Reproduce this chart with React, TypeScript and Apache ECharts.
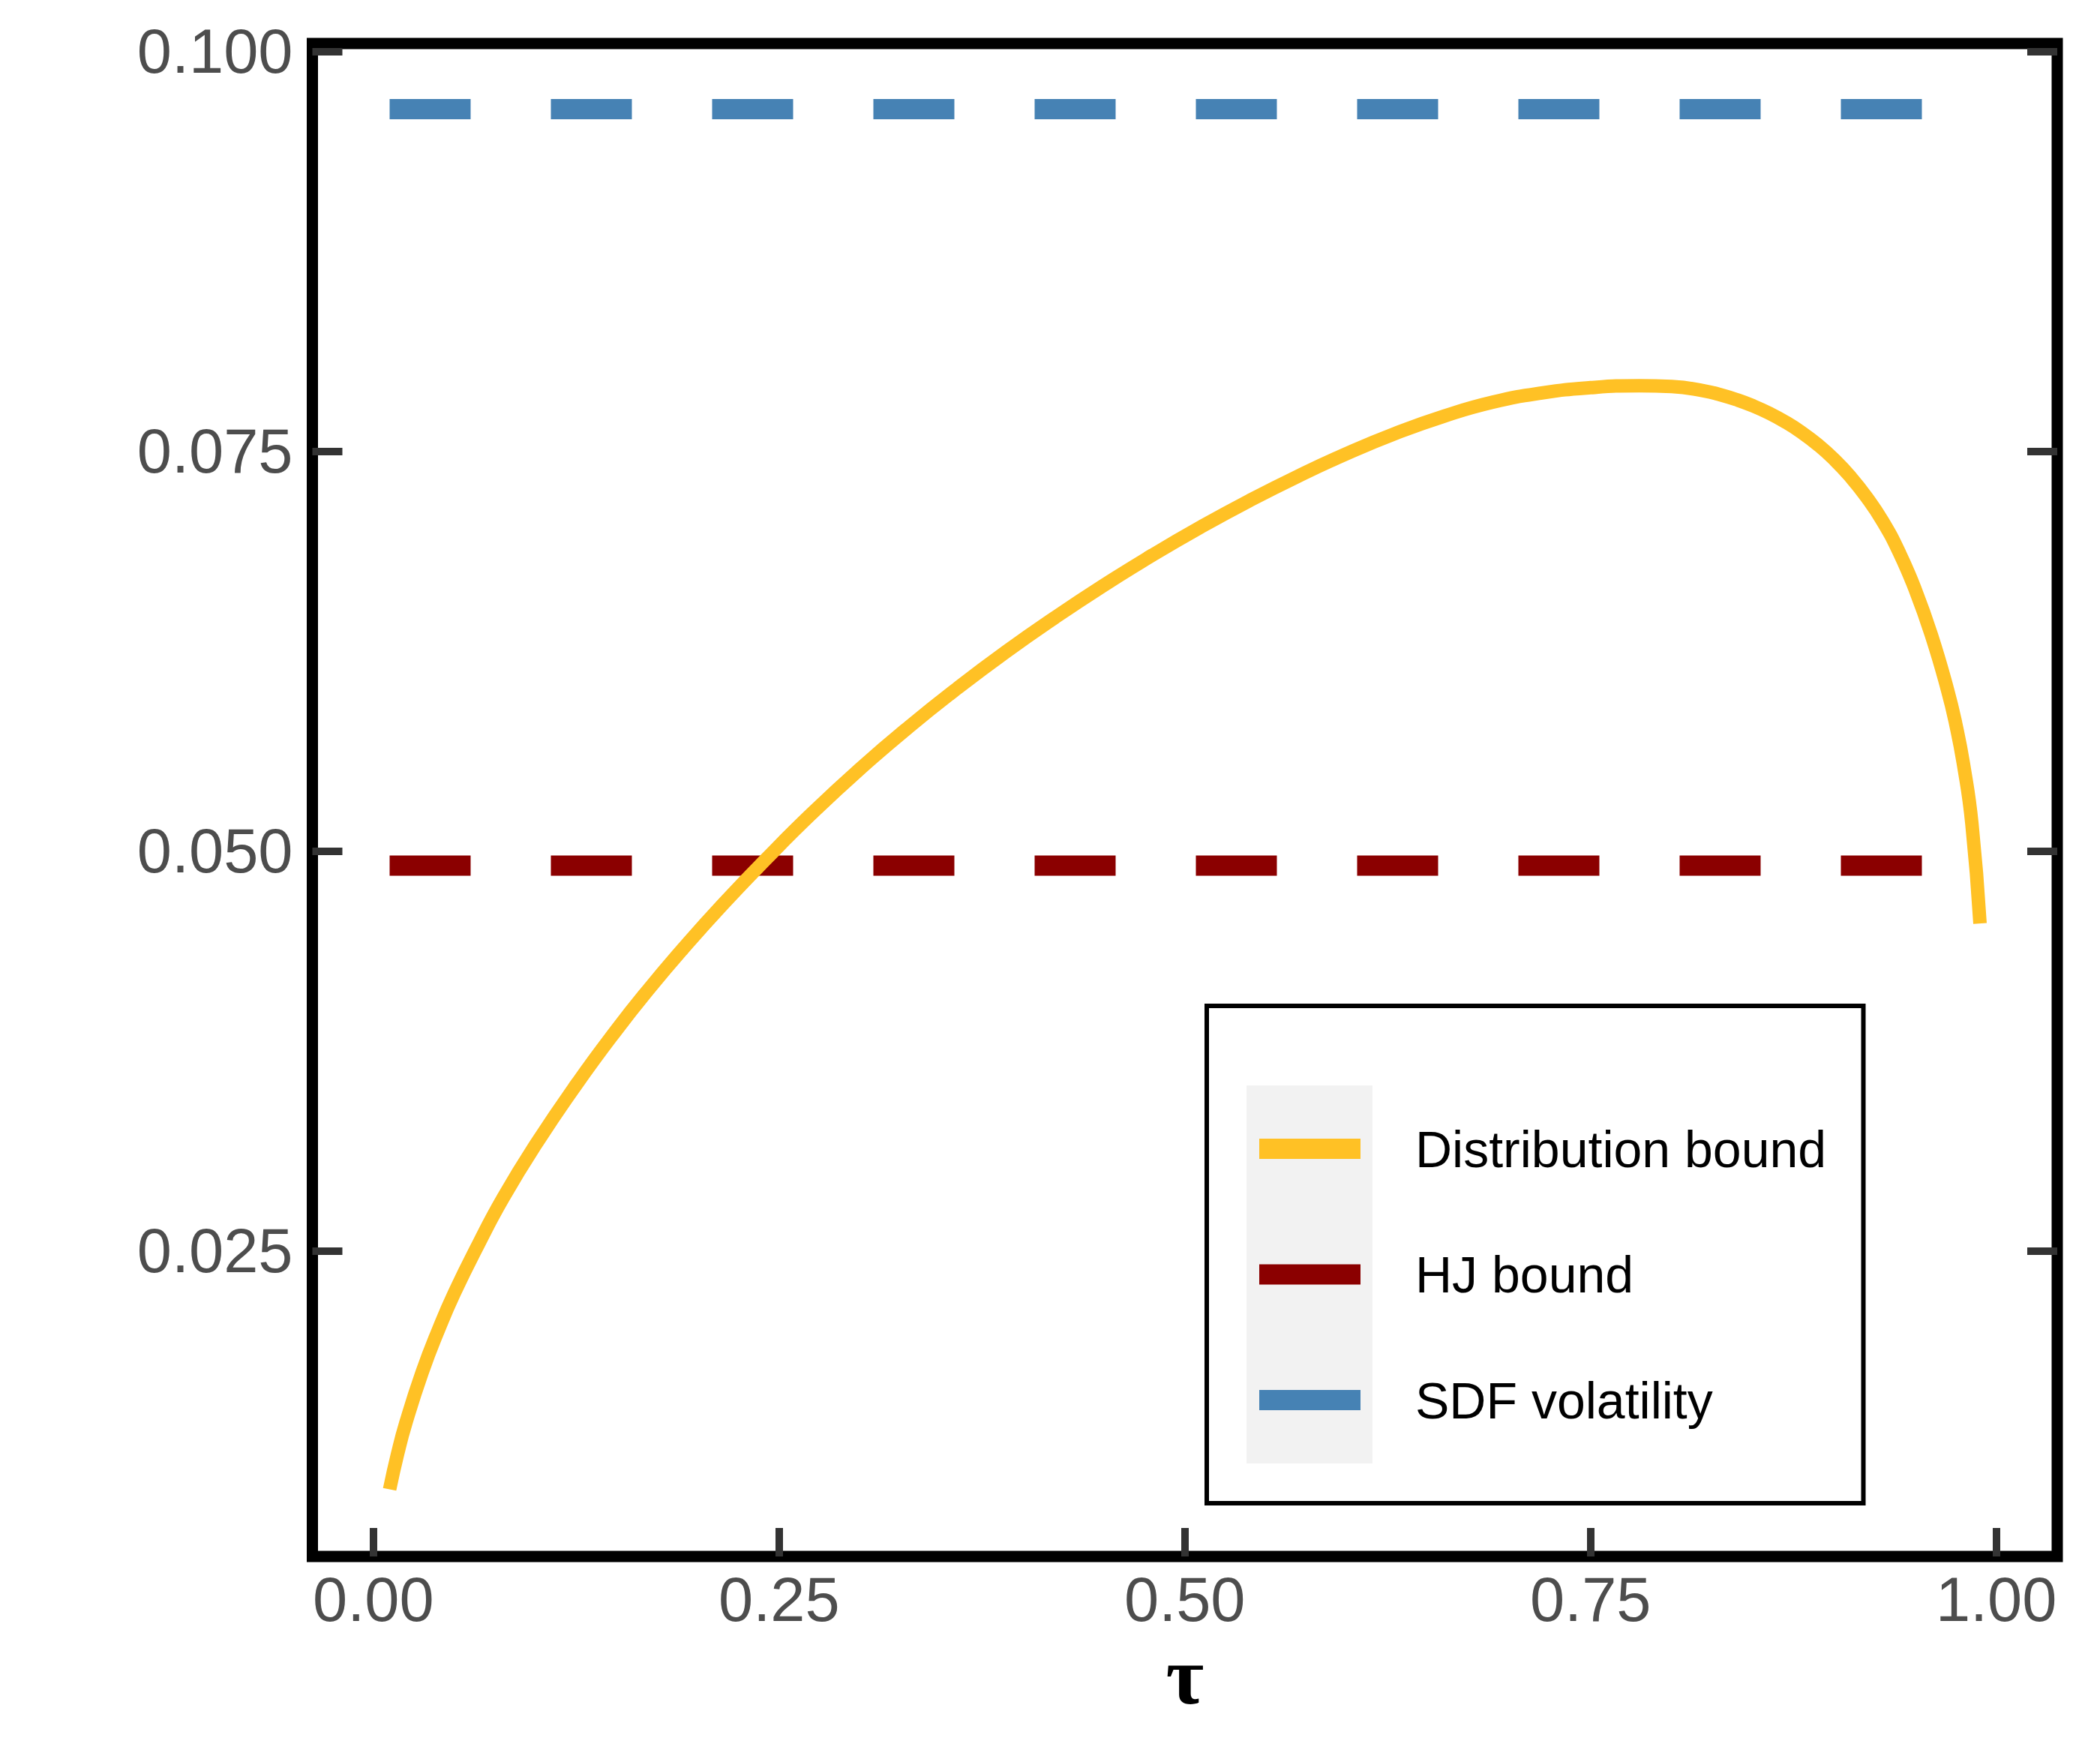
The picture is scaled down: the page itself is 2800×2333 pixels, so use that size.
import React, { useEffect, useRef } from "react";
import * as echarts from "echarts";

const tau = [
  0.01, 0.015, 0.02, 0.03, 0.04, 0.05, 0.065, 0.08, 0.1, 0.125, 0.15, 0.17,
  0.19, 0.215, 0.243, 0.27, 0.3, 0.33, 0.36, 0.39, 0.42, 0.45, 0.48, 0.51,
  0.54, 0.57, 0.6, 0.63, 0.66, 0.69, 0.72, 0.75, 0.78, 0.8, 0.82, 0.83, 0.84,
  0.85, 0.86, 0.87, 0.88, 0.89, 0.9, 0.91, 0.92, 0.93, 0.94, 0.95, 0.96, 0.97,
  0.975, 0.98, 0.985, 0.99,
];
const distributionBound = [
  0.0101, 0.01235, 0.01425, 0.0174, 0.02005, 0.0224, 0.02548, 0.02833, 0.03165,
  0.0354, 0.03885, 0.04141, 0.04381, 0.04664, 0.04961, 0.05234, 0.05516,
  0.05777, 0.0602, 0.06248, 0.06461, 0.06662, 0.06851, 0.07028, 0.07193,
  0.07346, 0.07487, 0.07613, 0.07721, 0.07808, 0.07865, 0.07898, 0.0791,
  0.07905, 0.07878, 0.07854, 0.07823, 0.07785, 0.07739, 0.07684, 0.07619,
  0.07542, 0.07451, 0.07343, 0.07215, 0.07063, 0.06873, 0.06638, 0.06353,
  0.06008, 0.05798, 0.05533, 0.05173, 0.04548,
];
const hjTau = [0.01, 0.99];
const hjBound = [0.0491, 0.0491];
const sdfTau = [0.01, 0.99];
const sdfVolatility = [0.0964, 0.0964];
const xTicks = [0, 0.25, 0.5, 0.75, 1];
const yTicks = [0.025, 0.05, 0.075, 0.1];
const seriesNames = ["Distribution bound", "HJ bound", "SDF volatility"];

const pair = (xs: number[], ys: number[]) => xs.map((x, i) => [x, ys[i]]);

export default function App() {
  const ref = useRef<HTMLDivElement>(null);
  useEffect(() => {
    document.body.style.margin = "0";
    if (!ref.current) return;
    const chart = echarts.init(ref.current, undefined, { renderer: "svg" });
    const tickStyle = { color: "#333333", width: 10 };
    const labelFont = "Liberation Sans";
    chart.setOption({
      animation: false,
      backgroundColor: "#ffffff",
      grid: {
        left: 416.5,
        top: 58,
        width: 2326.5,
        height: 2017,
        show: true,
        borderColor: "#000000",
        borderWidth: 15,
        backgroundColor: "transparent",
      },
      xAxis: {
        type: "value",
        min: -0.0376,
        max: 1.0376,
        name: "\u03c4",
        nameLocation: "middle",
        nameGap: 89,
        nameTextStyle: {
          fontFamily: "Liberation Serif",
          fontWeight: "bold",
          fontSize: 110,
          color: "#000000",
        },
        axisLine: { show: false, onZero: false },
        splitLine: { show: false },
        axisTick: {
          show: true,
          inside: true,
          length: 38,
          lineStyle: tickStyle,
          customValues: xTicks,
        },
        axisLabel: {
          show: true,
          margin: 16,
          fontSize: 83,
          fontFamily: labelFont,
          color: "#4D4D4D",
          customValues: xTicks,
          formatter: (v: number) => v.toFixed(2),
        },
      },
      yAxis: [
        {
          type: "value",
          min: 0.0059,
          max: 0.1005,
          position: "left",
          axisLine: { show: false, onZero: false },
          splitLine: { show: false },
          axisTick: {
            show: true,
            inside: true,
            length: 40,
            lineStyle: tickStyle,
            customValues: yTicks,
          },
          axisLabel: {
            show: true,
            margin: 26,
            fontSize: 83,
            fontFamily: labelFont,
            color: "#4D4D4D",
            customValues: yTicks,
            formatter: (v: number) => v.toFixed(3),
          },
        },
        {
          type: "value",
          min: 0.0059,
          max: 0.1005,
          position: "right",
          axisLine: { show: false, onZero: false },
          splitLine: { show: false },
          axisTick: {
            show: true,
            inside: true,
            length: 40,
            lineStyle: tickStyle,
            customValues: yTicks,
          },
          axisLabel: { show: false, customValues: yTicks },
        },
      ],
      legend: {
        data: seriesNames,
        orient: "vertical",
        left: 1679,
        top: 1491.5,
        padding: 0,
        itemWidth: 135,
        itemHeight: 27,
        itemGap: 87.5,
        icon: "rect",
        selectedMode: false,
        itemStyle: { borderWidth: 0 },
        textStyle: {
          fontFamily: labelFont,
          fontSize: 68,
          color: "#000000",
          lineHeight: 80,
          padding: [0, 0, 0, 68],
        },
      },
      graphic: [
        {
          type: "rect",
          z: 1,
          shape: { x: 1609, y: 1341, width: 875.5, height: 663 },
          style: { fill: "#ffffff", stroke: "#000000", lineWidth: 6 },
        },
        {
          type: "rect",
          z: 2,
          shape: { x: 1662, y: 1447, width: 168, height: 504 },
          style: { fill: "#F2F2F2" },
        },
      ],
      series: [
        {
          name: seriesNames[1],
          type: "line",
          data: pair(hjTau, hjBound),
          color: "#8B0000",
          showSymbol: false,
          symbol: "none",
          z: 2,
          lineStyle: { width: 27, type: [108, 107], cap: "butt", color: "#8B0000" },
        },
        {
          name: seriesNames[2],
          type: "line",
          data: pair(sdfTau, sdfVolatility),
          color: "#4682B4",
          showSymbol: false,
          symbol: "none",
          z: 2,
          lineStyle: { width: 27, type: [108, 107], cap: "butt", color: "#4682B4" },
        },
        {
          name: seriesNames[0],
          type: "line",
          data: pair(tau, distributionBound),
          color: "#FFC125",
          showSymbol: false,
          symbol: "none",
          smooth: 0.5,
          z: 3,
          lineStyle: { width: 18, color: "#FFC125", cap: "butt", join: "round" },
        },
      ],
    });
    return () => chart.dispose();
  }, []);
  return (
    <div
      ref={ref}
      style={{ width: 2800, height: 2333, position: "absolute", left: 0, top: 0 }}
    />
  );
}
